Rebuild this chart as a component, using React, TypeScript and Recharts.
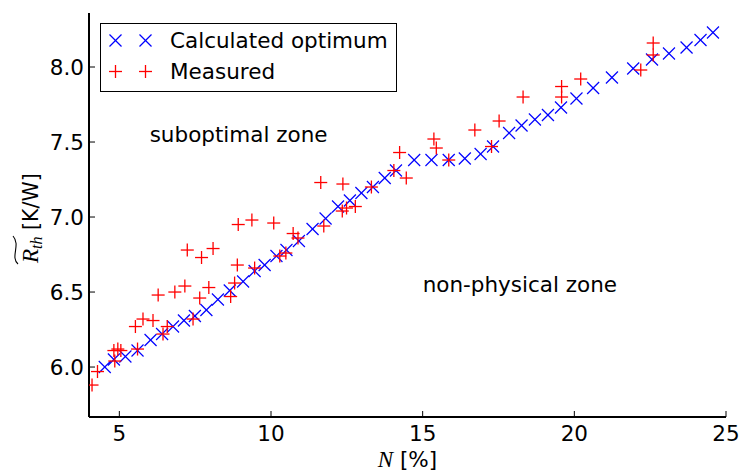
import { ScatterChart, Scatter, XAxis, YAxis, Legend, ReferenceDot } from "recharts";

// calculated optimum (blue x)
const calcN = [
  4.52, 4.82, 5.2, 5.6, 6.03, 6.41, 6.77, 7.13, 7.49, 7.87, 8.25, 8.64, 9.08, 9.46, 9.79, 10.18,
  10.51, 10.92, 11.37, 11.8, 12.21, 12.6, 12.98, 13.36, 13.75, 14.12, 14.72, 15.29, 15.86, 16.39,
  16.91, 17.32, 17.85, 18.26, 18.7, 19.13, 19.56, 20.07, 20.62, 21.24, 21.94, 22.56, 23.12, 23.7,
  24.16, 24.57,
];
const calcR = [
  6.0, 6.05, 6.07, 6.11, 6.18, 6.22, 6.27, 6.31, 6.34, 6.38, 6.45, 6.51, 6.57, 6.64, 6.68, 6.74,
  6.78, 6.84, 6.92, 6.99, 7.07, 7.11, 7.16, 7.2, 7.26, 7.31, 7.38, 7.38, 7.38, 7.39, 7.42, 7.47,
  7.56, 7.61, 7.65, 7.68, 7.73, 7.79, 7.86, 7.93, 7.99, 8.05, 8.09, 8.13, 8.18, 8.23,
];

// measured (red +)
const measN = [
  4.1, 4.28, 4.85, 4.82, 4.95, 5.05, 5.6, 5.53, 5.78, 6.11, 6.44, 6.58, 6.28, 6.83, 7.16, 7.24,
  7.71, 8.09, 7.65, 7.95, 7.43, 8.89, 8.8, 8.67, 8.92, 9.37, 10.09, 9.46, 10.29, 10.49, 10.73,
  10.89, 11.64, 12.37, 11.74, 12.35, 12.49, 12.78, 13.31, 14.05, 14.24, 14.46, 15.37, 15.45,
  15.86, 16.72, 17.27, 17.52, 18.31, 19.58, 19.58, 20.21, 22.19, 22.6, 22.6,
];
const measR = [
  5.88, 5.97, 6.04, 6.11, 6.12, 6.11, 6.12, 6.27, 6.32, 6.31, 6.22, 6.27, 6.48, 6.5, 6.54, 6.78,
  6.73, 6.79, 6.46, 6.53, 6.32, 6.68, 6.56, 6.47, 6.95, 6.98, 6.96, 6.66, 6.74, 6.76, 6.89, 6.86,
  7.23, 7.22, 6.94, 7.04, 7.06, 7.07, 7.2, 7.31, 7.43, 7.26, 7.52, 7.46, 7.38, 7.58, 7.47, 7.64,
  7.8, 7.87, 7.8, 7.92, 7.98, 8.16, 8.08,
];

const xTicks = [5, 10, 15, 20, 25];
const yTicks = [6.0, 6.5, 7.0, 7.5, 8.0];

const calcData = calcN.map((n, i) => ({ n, r: calcR[i] }));
const measData = measN.map((n, i) => ({ n, r: measR[i] }));

const BLUE = "#0000ff";
const RED = "#ff0000";
const SANS = "DejaVu Sans, sans-serif";
const MATH = "Liberation Serif, DejaVu Serif, serif";
const FS = 21.5;

const Cross = ({ cx, cy, color = BLUE, s = 6 }: any) => (
  <g stroke={color} strokeWidth={1.2}>
    <line x1={cx - s} y1={cy - s} x2={cx + s} y2={cy + s} />
    <line x1={cx - s} y1={cy + s} x2={cx + s} y2={cy - s} />
  </g>
);

const Plus = ({ cx, cy, color = RED, s = 6.5 }: any) => (
  <g stroke={color} strokeWidth={1.3}>
    <line x1={cx - s} y1={cy} x2={cx + s} y2={cy} />
    <line x1={cx} y1={cy - s} x2={cx} y2={cy + s} />
  </g>
);

const XTick = ({ x, y, payload }: any) => (
  <g>
    <line x1={x} x2={x} y1={y} y2={y - 6} stroke="#000" strokeWidth={1} />
    <text x={x} y={y + 24} textAnchor="middle" fontSize={FS} fontFamily={SANS} fill="#000">
      {payload.value}
    </text>
  </g>
);

const YTick = ({ x, y, payload }: any) => (
  <g>
    <line x1={x} x2={x + 6} y1={y} y2={y} stroke="#000" strokeWidth={1} />
    <text x={x - 5} y={y + 7.5} textAnchor="end" fontSize={FS} fontFamily={SANS} fill="#000">
      {Number(payload.value).toFixed(1)}
    </text>
  </g>
);

const XLabel = ({ viewBox }: any) => (
  <text
    x={viewBox.x + viewBox.width / 2}
    y={viewBox.y + 50}
    textAnchor="middle"
    fontSize={FS}
    fontFamily={SANS}
    fill="#000"
  >
    <tspan fontFamily={MATH} fontStyle="italic" fontSize={23}>N</tspan>
    <tspan> [%]</tspan>
  </text>
);

const YLabel = ({ viewBox }: any) => {
  const cx = viewBox.x + 29;
  const cy = viewBox.y + viewBox.height / 2;
  return (
    <g transform={`translate(${cx},${cy}) rotate(-90)`}>
      <path d="M -49 -20 C -42 -28, -30 -17, -21 -25" fill="none" stroke="#000" strokeWidth={1.1} />
      <text x={-48} y={0} fontSize={20.5} fontFamily={SANS} fill="#000">
        <tspan fontFamily={MATH} fontStyle="italic" fontSize={23}>R</tspan>
        <tspan fontFamily={MATH} fontStyle="italic" fontSize={16} dy={4}>th</tspan>
        <tspan dy={-4}> [K/W]</tspan>
      </text>
    </g>
  );
};

const LegendBox = ({ payload }: any) => (
  <div style={{ border: "1.5px solid #000", background: "#fff", width: 297, height: 69, boxSizing: "border-box" }}>
    <svg width={294} height={66} style={{ display: "block" }}>
      {(payload || []).map((p: any, i: number) => {
        const y = 16.5 + i * 31;
        const M = p.value === "Measured" ? Plus : Cross;
        return (
          <g key={p.value}>
            <M cx={14.5} cy={y} />
            <M cx={44.5} cy={y} />
            <text x={69} y={y + 7.8} fontSize={FS} fontFamily={SANS} fill="#000">
              {p.value}
            </text>
          </g>
        );
      })}
    </svg>
  </div>
);

const ZoneText = ({ text }: { text: string }) => (props: any) => (
  <text x={props.cx} y={props.cy} fontSize={FS} fontFamily={SANS} fill="#000">
    {text}
  </text>
);

export default function App() {
  return (
    <div style={{ position: "absolute", left: 0, top: 0, background: "#fff" }}>
      <ScatterChart width={742} height={474} margin={{ top: 13, right: 16, bottom: 0, left: 9 }}>
        <XAxis
          type="number"
          dataKey="n"
          domain={[4, 25]}
          ticks={xTicks}
          interval={0}
          allowDataOverflow
          height={57}
          tickSize={0}
          tickMargin={0}
          tickLine={false}
          axisLine={{ stroke: "#000", strokeWidth: 2 }}
          tick={<XTick />}
          label={<XLabel />}
        />
        <YAxis
          type="number"
          dataKey="r"
          domain={[5.667, 8.36]}
          ticks={yTicks}
          interval={0}
          allowDataOverflow
          width={80}
          tickSize={0}
          tickMargin={0}
          tickLine={false}
          axisLine={{ stroke: "#000", strokeWidth: 2 }}
          tick={<YTick />}
          label={<YLabel />}
        />
        <Legend
          layout="horizontal"
          verticalAlign="middle"
          align="center"
          wrapperStyle={{ left: 100, top: 23, width: 297, height: 69 }}
          content={<LegendBox />}
        />
        <ReferenceDot x={6.0} y={7.5} r={0} shape={ZoneText({ text: "suboptimal zone" })} />
        <ReferenceDot x={15.0} y={6.5} r={0} shape={ZoneText({ text: "non-physical zone" })} />
        <Scatter
          name="Calculated optimum"
          data={calcData}
          fill={BLUE}
          isAnimationActive={false}
          shape={(p: any) => <Cross cx={p.cx} cy={p.cy} />}
        />
        <Scatter
          name="Measured"
          data={measData}
          fill={RED}
          isAnimationActive={false}
          shape={(p: any) => <Plus cx={p.cx} cy={p.cy} />}
        />
      </ScatterChart>
    </div>
  );
}
